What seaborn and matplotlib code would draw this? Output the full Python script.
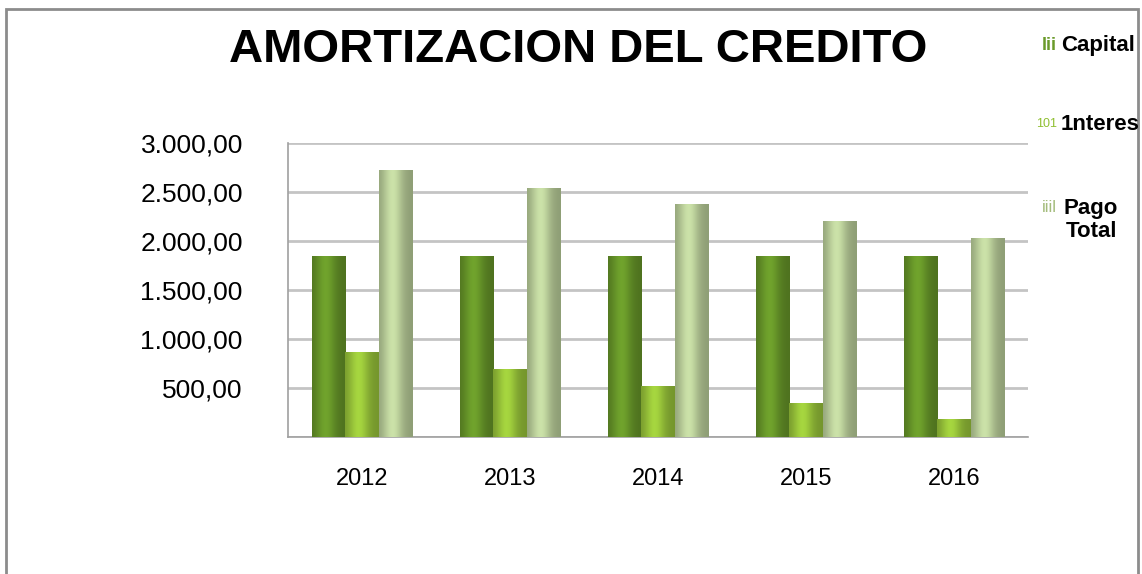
import numpy as np
import pandas as pd
import matplotlib
matplotlib.use("Agg")
import matplotlib.pyplot as plt
from matplotlib.patches import Rectangle
import seaborn as sns

# data
years = ["2012", "2013", "2014", "2015", "2016"]
capital = [1850, 1850, 1850, 1850, 1850]
interes = [870, 690, 525, 350, 180]
pago_total = [2720, 2540, 2375, 2200, 2030]
series = ["Capital", "1nteres", "Pago Total"]
colors = ["#6a9a2a", "#9dca3c", "#c0d59f"]

df = pd.DataFrame({
    "year": years * 3,
    "valor": capital + interes + pago_total,
    "serie": [s for s in series for _ in years],
})

sns.set_style("white")
plt.rcParams["font.family"] = ["Liberation Sans", "DejaVu Sans"]
plt.rcParams["text.color"] = "black"
plt.rcParams["xtick.color"] = "black"
plt.rcParams["ytick.color"] = "black"

fig = plt.figure(figsize=(11.42, 5.74), dpi=100)
ax = fig.add_axes([0.2522, 0.2387, 0.648, 0.5122])

sns.barplot(data=df, x="year", y="valor", hue="serie", palette=colors,
            width=0.67, saturation=1, ax=ax, legend=False, zorder=3)

# cylinder-like shading on each bar
def shade(c, n=64):
    base = np.array(matplotlib.colors.to_rgb(c))
    t = np.linspace(0, 1, n)
    f = 0.74 + 0.32 * np.exp(-((t - 0.4) / 0.3) ** 2)
    rgb = np.clip(base[None, :] * f[:, None], 0, 1)
    return rgb[None, :, :]

for bar in ax.patches:
    x0, y0 = bar.get_x(), bar.get_y()
    w, h = bar.get_width(), bar.get_height()
    if h <= 0:
        continue
    im = ax.imshow(shade(bar.get_facecolor()), extent=[x0, x0 + w, y0, y0 + h],
                   aspect="auto", zorder=4, interpolation="bilinear")
    im.set_clip_path(bar)
    bar.set_edgecolor("#55653f")
    bar.set_linewidth(0.6)

ax.set_xlim(-0.5, 4.5)
ax.set_ylim(0, 3000)
ax.set_xlabel("")
ax.set_ylabel("")

yt = [500, 1000, 1500, 2000, 2500, 3000]
ax.set_yticks([0] + yt)
ax.set_yticklabels([""] + [f"{v:,.2f}".replace(",", "X").replace(".", ",").replace("X", ".") for v in yt],
                   fontsize=19)
ax.yaxis.grid(True, color="#c4c4c4", linewidth=2, zorder=0)
ax.tick_params(axis="y", direction="inout", length=9, width=1, color="#999999", pad=28)

ax.set_xticks(range(len(years)))
ax.set_xticklabels(years, fontsize=17)
ax.set_xticks(np.arange(-0.5, 5, 1), minor=True)
ax.tick_params(axis="x", which="major", length=0, pad=22)
ax.tick_params(axis="x", which="minor", direction="inout", length=8, width=1, color="#999999")

for s in ["top", "right"]:
    ax.spines[s].set_visible(False)
for s in ["left", "bottom"]:
    ax.spines[s].set_color("#a0a0a0")
    ax.spines[s].set_linewidth(1.2)

# title
fig.text(0.506, 1 - 50 / 574, "AMORTIZACION DEL CREDITO", ha="center", va="center",
         fontsize=34, fontweight="bold")

# legend drawn as text, like the reference
fig.text(1057 / 1142, 1 - 46 / 574, "lii", color="#6a9a2a", fontsize=13, fontweight="bold",
         va="center", ha="right")
fig.text(1061 / 1142, 1 - 46 / 574, "Capital", fontsize=16, fontweight="bold",
         va="center", ha="left")
fig.text(1057 / 1142, 1 - 124 / 574, "101", color="#8fbf30", fontsize=9,
         va="center", ha="right")
fig.text(1061 / 1142, 1 - 124 / 574, "1nteres", fontsize=16, fontweight="bold",
         va="center", ha="left")
fig.text(1057 / 1142, 1 - 207 / 574, "iiil", color="#a4bc7c", fontsize=12,
         va="center", ha="right")
fig.text(1091 / 1142, 1 - 220 / 574, "Pago\nTotal", fontsize=16, fontweight="bold",
         va="center", ha="center", linespacing=1.15)

# outer frame
fig.patches.append(Rectangle((6 / 1142, -0.1), 1132 / 1142, 1.1 - 9 / 574,
                             transform=fig.transFigure, fill=False,
                             edgecolor="#8c8c8c", linewidth=2))

fig.savefig("out.png", dpi=100)
